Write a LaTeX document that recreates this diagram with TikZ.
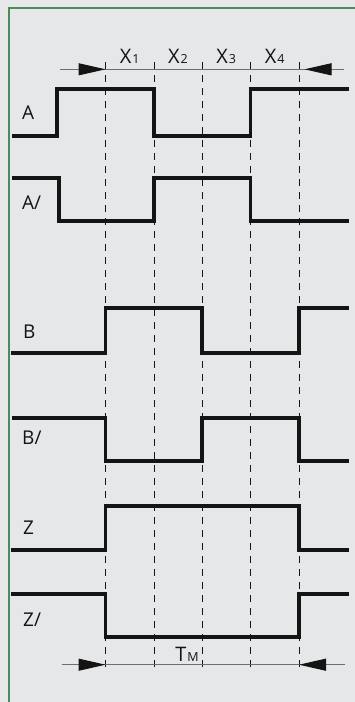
\documentclass[tikz,border=0pt]{standalone}
\usepackage{fontspec}
\setmainfont{Open Sans}
\usetikzlibrary{arrows.meta,positioning}
\definecolor{panel}{HTML}{E6E7E8}
\definecolor{framegreen}{HTML}{4C8A5C}
\definecolor{ink}{HTML}{141414}
\definecolor{dimgrey}{HTML}{6E6E6E}
\newcommand\idx[1]{\kern1pt{\fontsize{12.5}{12.5}\selectfont #1}}
\tikzset{
  every node/.style={text=ink, inner sep=0pt},
  siglabel/.style={anchor=west, font=\fontsize{19}{19}\selectfont},
  steplabel/.style={anchor=base, font=\fontsize{20}{20}\selectfont},
  wave/.style={draw=ink, line width=3.3pt, line join=miter},
  gridline/.style={draw=ink, line width=.8pt, dash pattern=on 7pt off 6pt},
  dimline/.style={draw=dimgrey, line width=1pt},
  dimtip/.style={-{Triangle[length=27pt,width=12pt,color=ink,fill=ink]},
    draw=dimgrey, line width=1pt}
}

\begin{document}
\begin{tikzpicture}[x=1pt,y=-1pt]
\useasboundingbox (0,0) rectangle (355,702);

% panel and its green edge (open to the right and bottom)
\fill[panel] (0,0) rectangle (355,702);
\draw[framegreen, line width=2.2pt, line join=miter] (9,702) -- (9,8) -- (355,8);

% time grid: five dashed instants
\foreach \x [count=\i from 0] in {105.5,154,202,250.5,299} {
  \coordinate (top\i) at (\x,62);
  \coordinate (bot\i) at (\x,671);
  \draw[gridline] (top\i) -- (bot\i);
}

% step labels between the instants
\node[steplabel] (x1) at (129.7,63) {X\idx{1}};
\node[steplabel] (x2) at (178,63) {X\idx{2}};
\node[steplabel] (x3) at (226.2,63) {X\idx{3}};
\node[steplabel] (x4) at (274.7,63) {X\idx{4}};

% dimension line over the steps
\coordinate (dimL) at (60,69.3);
\coordinate (dimR) at (344,69.3);
\coordinate (tipR) at (304.5,69.3);
\draw[dimline] (dimL) -- (dimR);
\draw[dimtip] (dimL) -- (top0 |- dimL);
\draw[dimtip] (dimR) -- (tipR);

% signal names
\node[siglabel] (lblA)  at (22,113) {A};
\node[siglabel] (lblAn) at (22,203) {A/};
\node[siglabel] (lblB)  at (23,332) {B};
\node[siglabel] (lblBn) at (22,438) {B/};
\node[siglabel] (lblZ)  at (23,528) {Z};
\node[siglabel] (lblZn) at (23,620) {Z/};

% waveforms
\draw[wave] (12,136) -- (57,136) -- (57,89) -- (154,89) -- (154,136)
  -- (250.5,136) -- (250.5,89) -- (349,89);
\draw[wave] (12,178) -- (59,178) -- (59,221) -- (154,221) -- (154,178)
  -- (250.5,178) -- (250.5,221) -- (349,221);
\draw[wave] (11,353) -- (105.5,353) -- (105.5,308) -- (202,308) -- (202,353)
  -- (299,353) -- (299,308) -- (349,308);
\draw[wave] (12,418) -- (105.5,418) -- (105.5,461) -- (202,461) -- (202,418)
  -- (299,418) -- (299,461) -- (349,461);
\draw[wave] (11,550) -- (105.5,550) -- (105.5,506) -- (299,506) -- (299,550)
  -- (349,550);
\draw[wave] (11,594) -- (105.5,594) -- (105.5,637) -- (299,637) -- (299,594)
  -- (349,594);

% dimension line under the cycle
\coordinate (cycL) at (61.7,664.7);
\coordinate (cycR) at (345,664.7);
\draw[dimline] (cycL) -- (cycR);
\draw[dimtip] (cycL) -- (top0 |- cycL);
\draw[dimtip] (cycR) -- (top4 |- cycR);
\node[steplabel] (tm) at (187,661) {T\idx{M}};

\end{tikzpicture}
\end{document}
